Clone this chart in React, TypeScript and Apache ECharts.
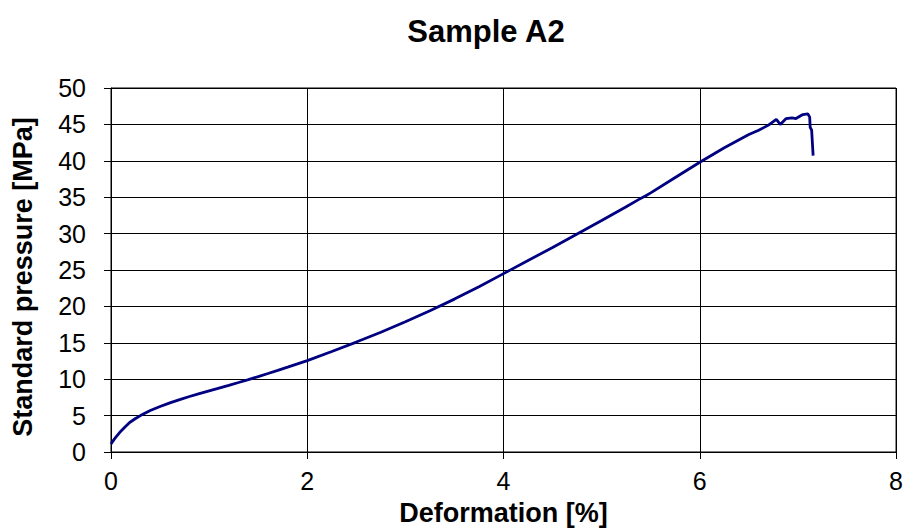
import React, { useEffect, useRef } from "react";
import * as echarts from "echarts";

const deformation = [0, 0.03, 0.06, 0.09, 0.14, 0.19, 0.25, 0.3, 0.4, 0.5, 0.6, 0.7, 0.8, 0.9, 1.0, 1.1, 1.2, 1.3, 1.4, 1.5, 1.6, 1.7, 1.8, 1.9, 2.0, 2.25, 2.5, 2.75, 3.0, 3.25, 3.5, 3.75, 4.0, 4.25, 4.5, 4.75, 5.0, 5.25, 5.38, 5.45, 5.5, 5.75, 6.0, 6.25, 6.5, 6.6, 6.7, 6.78, 6.82, 6.88, 6.94, 6.98, 7.05, 7.1, 7.12, 7.125, 7.14, 7.155];
const pressure = [1.1, 1.7, 2.2, 2.7, 3.4, 4.05, 4.6, 5.0, 5.7, 6.25, 6.75, 7.2, 7.62, 8.02, 8.4, 8.78, 9.16, 9.55, 9.95, 10.36, 10.78, 11.21, 11.65, 12.1, 12.56, 13.8, 15.1, 16.45, 17.9, 19.4, 21.0, 22.7, 24.5, 26.3, 28.1, 29.95, 31.8, 33.7, 34.7, 35.2, 35.6, 37.7, 39.8, 41.8, 43.6, 44.2, 44.9, 45.7, 45.0, 45.8, 45.9, 45.8, 46.35, 46.45, 46.0, 44.6, 44.2, 40.7];

const xTicks = [0, 2, 4, 6, 8];
const yTicks = [0, 5, 10, 15, 20, 25, 30, 35, 40, 45, 50];

export default function App() {
  const ref = useRef<HTMLDivElement>(null);
  useEffect(() => {
    if (!ref.current) return;
    const chart = echarts.init(ref.current, null, { renderer: "svg" });
    const font = "Liberation Sans, Arial, sans-serif";
    chart.setOption({
      animation: false,
      backgroundColor: "#fff",
      title: {
        text: "Sample A2",
        left: 481,
        top: 11,
        textAlign: "center",
        textStyle: { fontFamily: font, fontSize: 31, fontWeight: "bold", color: "#000" },
      },
      graphic: [
        {
          type: "text",
          x: 23,
          y: 277,
          rotation: Math.PI / 2,
          style: {
            text: "Standard pressure [MPa]",
            fontFamily: font,
            fontSize: 27,
            fontWeight: "bold",
            fill: "#000",
            align: "center",
            verticalAlign: "middle",
          },
        },
      ],
      grid: {
        left: 111,
        top: 88,
        right: 9,
        bottom: 76,
        show: true,
        borderColor: "#000",
        borderWidth: 1,
      },
      xAxis: {
        type: "value",
        min: xTicks[0],
        max: xTicks[xTicks.length - 1],
        interval: 2,
        name: "Deformation [%]",
        nameLocation: "middle",
        nameGap: 47,
        nameTextStyle: { fontFamily: font, fontSize: 27, fontWeight: "bold", color: "#000" },
        axisLine: { show: true, lineStyle: { color: "#000", width: 1 } },
        axisTick: { show: true, inside: false, length: 7, lineStyle: { color: "#000" } },
        axisLabel: { fontFamily: font, fontSize: 25, color: "#000", margin: 16 },
        splitLine: { show: true, lineStyle: { color: "#000", width: 1 } },
      },
      yAxis: {
        type: "value",
        min: yTicks[0],
        max: yTicks[yTicks.length - 1],
        interval: 5,
        axisLine: { show: true, lineStyle: { color: "#000", width: 1 } },
        axisTick: { show: true, inside: false, length: 7, lineStyle: { color: "#000" } },
        axisLabel: { fontFamily: font, fontSize: 25, color: "#000", margin: 25 },
        splitLine: { show: true, lineStyle: { color: "#000", width: 1 } },
      },
      series: [
        {
          type: "line",
          data: deformation.map((d, i) => [d, pressure[i]]),
          showSymbol: false,
          symbol: "none",
          lineStyle: { color: "#000080", width: 2.8 },
          smooth: false,
        },
      ],
    });
    return () => chart.dispose();
  }, []);
  return <div ref={ref} style={{ width: 906, height: 531, position: "absolute", left: 0, top: 0 }} />;
}
